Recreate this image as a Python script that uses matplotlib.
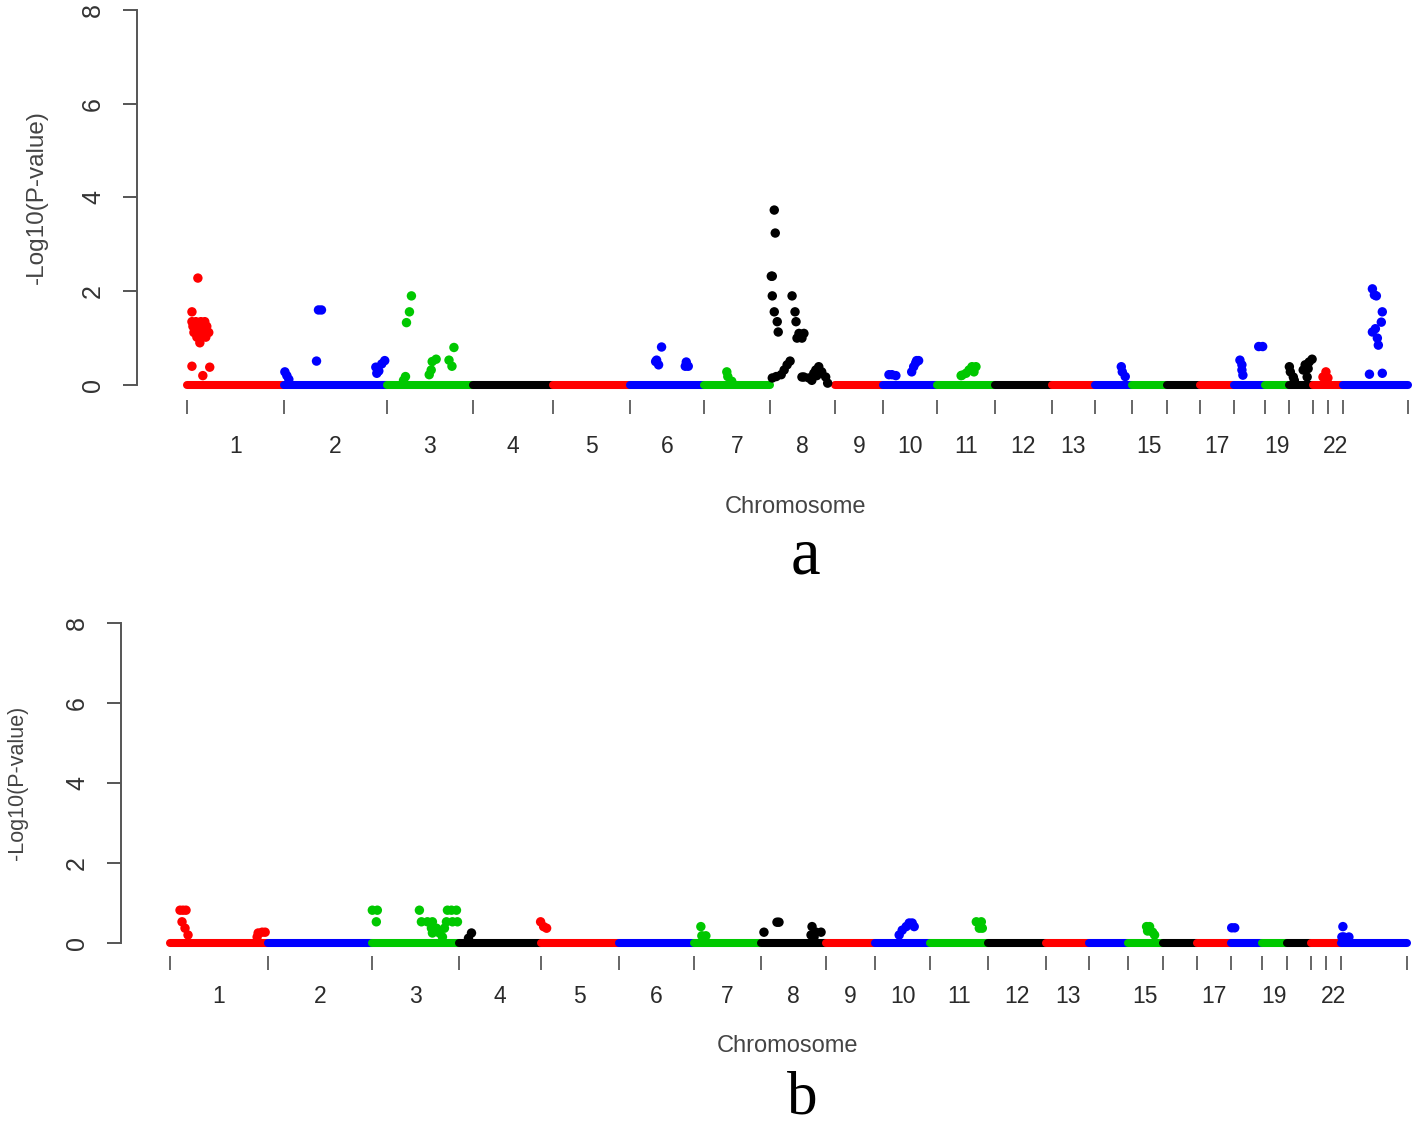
import matplotlib.pyplot as plt
import numpy as np

# chromosome widths on the plot (cumulative position units)
chrom_len = [98, 104, 87, 81, 78, 75, 67, 65, 49, 55, 58, 58, 43, 38, 35, 34, 34, 31, 25, 24, 15, 15, 66]
chrom_col = ['red', 'blue', 'green', 'black'] * 5 + ['red', 'red', 'blue']
shown = ['1', '2', '3', '4', '5', '6', '7', '8', '9', '10', '11', '12', '13', '15', '17', '19', '22']

RED, BLUE, GREEN, BLACK = '#FF0000', '#0000FF', '#00C800', '#000000'
cmap = {'red': RED, 'blue': BLUE, 'green': GREEN, 'black': BLACK}

# panel a: chromosome, offset inside chromosome, -log10(p)
a_chr = [1]*21 + [2]*11 + [3]*12 + [6]*7 + [7]*3 + [8]*32 + [10]*8 + [11]*7 + [14]*3 + [18]*6 + [20]*10 + [21]*3 + [23]*11
a_pos = [11, 5, 5, 9, 14, 18, 6, 11, 16, 20, 7, 12, 17, 22, 10, 15, 19, 13, 5, 23, 16,
         1, 3, 5, 33, 35, 38, 93, 94, 96, 99, 102,
         25, 23, 20, 19, 17, 46, 50, 45, 43, 68, 63, 66,
         32, 27, 29, 26, 57, 59, 56,
         23, 24, 28,
         4, 5, 1, 2, 2, 4, 7, 8, 22, 25, 26, 29, 32, 27, 34, 6, 11, 14, 17, 20, 2, 34, 39, 42, 46, 49, 52, 56, 58, 32, 47, 44,
         6, 9, 13, 29, 31, 33, 34, 36,
         24, 25, 29, 32, 35, 37, 39,
         27, 28, 31,
         6, 8, 8, 9, 25, 29,
         0, 1, 4, 5, 14, 16, 18, 19, 20, 23,
         10, 13, 15,
         30, 32, 34, 40, 39, 30, 33, 35, 36, 27, 40]
a_val = [2.28, 1.56, 1.35, 1.35, 1.35, 1.35, 1.25, 1.25, 1.25, 1.25, 1.12, 1.12, 1.12, 1.12, 1.02, 1.02, 1.02, 0.9, 0.4, 0.38, 0.2,
         0.28, 0.2, 0.12, 0.51, 1.6, 1.6, 0.38, 0.25, 0.3, 0.45, 0.52,
         1.9, 1.56, 1.33, 0.18, 0.1, 0.5, 0.55, 0.32, 0.22, 0.8, 0.53, 0.4,
         0.81, 0.53, 0.43, 0.5, 0.49, 0.4, 0.4,
         0.28, 0.18, 0.08,
         3.73, 3.24, 2.32, 2.32, 1.9, 1.56, 1.35, 1.13, 1.9, 1.56, 1.35, 1.1, 1.0, 1.0, 1.1, 0.18, 0.22, 0.32, 0.43, 0.51, 0.15, 0.17, 0.15, 0.1, 0.32, 0.39, 0.28, 0.17, 0.04, 0.17, 0.2, 0.25,
         0.22, 0.22, 0.2, 0.28, 0.39, 0.47, 0.52, 0.52,
         0.2, 0.21, 0.25, 0.32, 0.39, 0.28, 0.39,
         0.39, 0.28, 0.18,
         0.53, 0.43, 0.32, 0.21, 0.82, 0.82,
         0.39, 0.28, 0.17, 0.1, 0.32, 0.43, 0.17, 0.35, 0.49, 0.55,
         0.17, 0.28, 0.15,
         2.05, 1.92, 1.9, 1.56, 1.34, 1.13, 1.2, 1.0, 0.85, 0.23, 0.25]
a_base = [c for c in range(1, 24) if c != 8]

# panel b
b_chr = [1]*10 + [3]*19 + [4]*2 + [5]*3 + [7]*4 + [8]*8 + [10]*6 + [11]*4 + [15]*5 + [18]*2 + [23]*4
b_pos = [10, 13, 16, 12, 15, 18, 87, 88, 92, 95,
         0, 5, 4, 47, 75, 79, 84, 49, 55, 60, 74, 80, 85, 59, 64, 67, 72, 60, 70,
         12, 9,
         0, 3, 6,
         7, 8, 12, 10,
         3, 16, 18, 51, 55, 60, 53, 50,
         24, 27, 31, 34, 37, 39,
         46, 51, 49, 52,
         19, 22, 25, 27, 20,
         1, 4,
         2, 3, 8, 1]
b_val = [0.82, 0.82, 0.82, 0.53, 0.37, 0.2, 0.15, 0.25, 0.27, 0.27,
         0.82, 0.82, 0.53, 0.82, 0.82, 0.82, 0.82, 0.53, 0.53, 0.53, 0.53, 0.53, 0.53, 0.37, 0.37, 0.25, 0.37, 0.25, 0.15,
         0.25, 0.12,
         0.53, 0.41, 0.37,
         0.41, 0.18, 0.18, 0.15,
         0.27, 0.52, 0.52, 0.41, 0.27, 0.27, 0.15, 0.2,
         0.2, 0.32, 0.41, 0.5, 0.5, 0.41,
         0.53, 0.53, 0.37, 0.37,
         0.41, 0.41, 0.27, 0.2, 0.3,
         0.38, 0.38,
         0.41, 0.15, 0.15, 0.15]
b_base = list(range(1, 24))

W, H = 1418, 1132
plt.rcParams['font.family'] = ['Liberation Sans', 'DejaVu Sans']
fig = plt.figure(figsize=(W / 100, H / 100), dpi=100)
starts = np.concatenate([[0], np.cumsum(chrom_len)[:-1]])
ends = np.cumsum(chrom_len)
total = ends[-1]


def panel(left, x0, x1, y0, ppu, top_val, chrs, pos, vals, base, lab_pad, ylab_pad):
    bottom_px = y0 + 0.32 * ppu
    top_px = y0 - top_val * ppu
    ax = fig.add_axes([left / W, 1 - bottom_px / H, (W - left) / W, (bottom_px - top_px) / H])
    s = (x1 - x0) / total
    ax.set_xlim((left - x0) / s, (W - x0) / s)
    ax.set_ylim(-0.32, top_val)
    for c in base:
        ax.plot([starts[c - 1], ends[c - 1]], [0, 0], color=cmap[chrom_col[c - 1]],
                lw=5.8, solid_capstyle='round', zorder=2)
    xs = [starts[c - 1] + p for c, p in zip(chrs, pos)]
    cols = [cmap[chrom_col[c - 1]] for c in chrs]
    ax.scatter(xs, vals, s=46, c=cols, edgecolors='none', zorder=3)
    for sp in ['top', 'right', 'bottom']:
        ax.spines[sp].set_visible(False)
    ax.spines['left'].set_bounds(0, 8)
    ax.spines['left'].set_color('#555555')
    ax.spines['left'].set_linewidth(1.4)
    ax.set_yticks([0, 2, 4, 6, 8])
    ax.tick_params(axis='y', length=10, width=1.4, color='#555555', pad=ylab_pad,
                   labelsize=18, labelcolor='#333333', labelrotation=90)
    for t in ax.get_yticklabels():
        t.set_va('center')
    ax.set_xticks(np.concatenate([[0], ends]))
    ax.set_xticklabels([])
    ax.tick_params(axis='x', which='major', length=10, width=1.4, color='#666666')
    centers = [(starts[int(n) - 1] + ends[int(n) - 1]) / 2 for n in shown]
    ax.set_xticks(centers, minor=True)
    ax.set_xticklabels(shown, minor=True)
    ax.tick_params(axis='x', which='minor', length=0, pad=lab_pad, labelsize=16.5, labelcolor='#2a2a2a')
    return ax


ax_a = panel(137, 187, 1408, 385, 46.9, 8.2, a_chr, a_pos, a_val, a_base, 25, 13)
ax_b = panel(121, 170, 1407, 943, 40.0, 8.3, b_chr, b_pos, b_val, b_base, 21, 13)

fig.text(37 / W, 1 - 197 / H, '-Log10(P-value)', rotation=90, ha='center', va='center',
         fontsize=17.5, color='#444444')
fig.text(18 / W, 1 - 783 / H, '-Log10(P-value)', rotation=90, ha='center', va='center',
         fontsize=15.5, color='#444444')
fig.text(796 / W, 1 - 507 / H, 'Chromosome', ha='center', va='center', fontsize=17, color='#444444')
fig.text(787 / W, 1 - 1046 / H, 'Chromosome', ha='center', va='center', fontsize=17, color='#444444')
fig.text(805 / W, 1 - 573 / H, 'a', ha='center', va='baseline', fontsize=48,
         family='Liberation Serif', color='black')
fig.text(802 / W, 1 - 1114 / H, 'b', ha='center', va='baseline', fontsize=44,
         family='Liberation Serif', color='black')

fig.savefig('out.png', dpi=100)
